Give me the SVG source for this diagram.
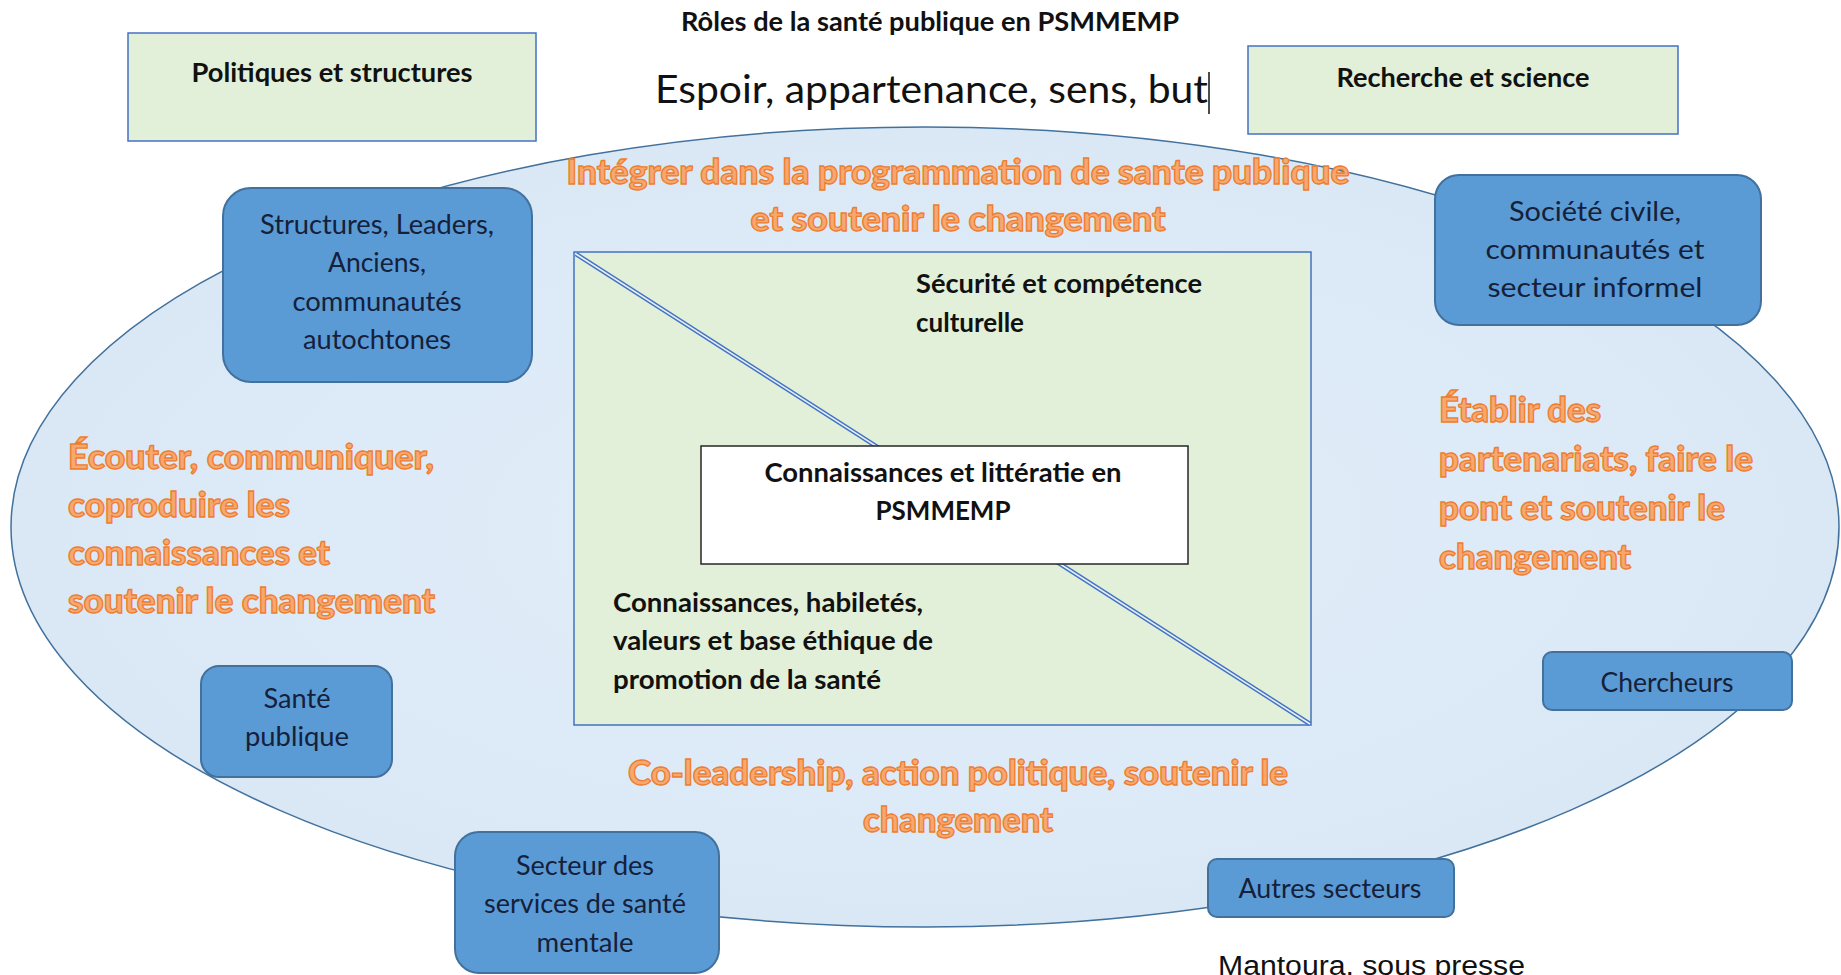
<svg xmlns="http://www.w3.org/2000/svg" width="1841" height="975" viewBox="0 0 1841 975">
  <defs>
    <radialGradient id="ellGrad" cx="50%" cy="50%" r="50%">
      <stop offset="0%" stop-color="#E3EEF9"/>
      <stop offset="100%" stop-color="#DAE8F6"/>
    </radialGradient>
    <style>
      .bk { font-family: Lato, "Liberation Sans", sans-serif; fill: #111; }
      .b { font-weight: 700; }
      .reg { font-weight: 400; }
      .or { font-family: Lato, "Liberation Sans", sans-serif; font-weight: 900; font-size: 34px; fill: #F7A86F; stroke: #ED7D31; stroke-width: 1.3px; }
      .greenbox { fill: #E2F0D9; stroke: #4472C4; stroke-width: 1.5; }
      .bluenode { fill: #5B9BD5; stroke: #41719C; stroke-width: 2; }
      .nt { font-family: Lato, "Liberation Sans", sans-serif; font-size: 26px; fill: #15203A; text-anchor: middle; }
    </style>
  </defs>

  <rect x="0" y="0" width="1841" height="975" fill="#FFFFFF"/>

  <!-- Big ellipse -->
  <g id="ellipse">
    <ellipse cx="925" cy="527" rx="914" ry="400" fill="url(#ellGrad)" stroke="#41719C" stroke-width="1.5"/>
  </g>

  <!-- Title texts -->
  <g id="title">
    <text class="bk b" x="930" y="31" font-size="26" text-anchor="middle" textLength="498" lengthAdjust="spacingAndGlyphs">Rôles de la santé publique en PSMMEMP</text>
    <text class="bk reg" x="655" y="103" font-size="39" textLength="553" lengthAdjust="spacingAndGlyphs">Espoir, appartenance, sens, but</text>
    <line x1="1209" y1="72" x2="1209" y2="114" stroke="#111" stroke-width="1.5"/>
  </g>

  <!-- Top green boxes -->
  <g id="politiques">
    <rect class="greenbox" x="128" y="33" width="408" height="108"/>
    <text class="bk b" x="332" y="82" font-size="26" text-anchor="middle" textLength="281" lengthAdjust="spacingAndGlyphs">Politiques et structures</text>
  </g>
  <g id="recherche">
    <rect class="greenbox" x="1248" y="46" width="430" height="88"/>
    <text class="bk b" x="1463" y="87" font-size="26" text-anchor="middle" textLength="253" lengthAdjust="spacingAndGlyphs">Recherche et science</text>
  </g>

  <!-- Orange role texts -->
  <g id="role-top">
    <text class="or" x="958" y="184" text-anchor="middle" textLength="783" lengthAdjust="spacingAndGlyphs">Intégrer dans la programmation de sante publique</text>
    <text class="or" x="958" y="231" text-anchor="middle" textLength="415" lengthAdjust="spacingAndGlyphs">et soutenir  le changement</text>
  </g>
  <g id="role-left">
    <text class="or" x="68" y="469" textLength="366" lengthAdjust="spacingAndGlyphs">Écouter, communiquer,</text>
    <text class="or" x="68" y="517" textLength="222" lengthAdjust="spacingAndGlyphs">coproduire les</text>
    <text class="or" x="68" y="565" textLength="262" lengthAdjust="spacingAndGlyphs">connaissances et</text>
    <text class="or" x="68" y="613" textLength="367" lengthAdjust="spacingAndGlyphs">soutenir le changement</text>
  </g>
  <g id="role-right">
    <text class="or" x="1439" y="422" textLength="162" lengthAdjust="spacingAndGlyphs">Établir des</text>
    <text class="or" x="1439" y="471" textLength="314" lengthAdjust="spacingAndGlyphs">partenariats, faire le</text>
    <text class="or" x="1439" y="520" textLength="286" lengthAdjust="spacingAndGlyphs">pont et soutenir le</text>
    <text class="or" x="1439" y="569" textLength="192" lengthAdjust="spacingAndGlyphs">changement</text>
  </g>
  <g id="role-bottom">
    <text class="or" x="958" y="785" text-anchor="middle" textLength="660" lengthAdjust="spacingAndGlyphs">Co-leadership, action politique, soutenir le</text>
    <text class="or" x="958" y="832" text-anchor="middle" textLength="190" lengthAdjust="spacingAndGlyphs">changement</text>
  </g>

  <!-- Inner green panel -->
  <g id="inner-panel">
    <rect class="greenbox" x="574" y="252" width="737" height="473"/>
    <line x1="576" y1="254" x2="1310" y2="724" stroke="#4472C4" stroke-width="4.5"/>
    <line x1="576" y1="254" x2="1310" y2="724" stroke="#E8F2F8" stroke-width="1.6"/>
    <text class="bk b" font-size="26" x="916" y="293" textLength="286" lengthAdjust="spacingAndGlyphs">Sécurité et compétence</text>
    <text class="bk b" font-size="26" x="916" y="332">culturelle</text>
    <text class="bk b" font-size="26" x="613" y="612" textLength="310" lengthAdjust="spacingAndGlyphs">Connaissances, habiletés,</text>
    <text class="bk b" font-size="26" x="613" y="650" textLength="320" lengthAdjust="spacingAndGlyphs">valeurs et base éthique de</text>
    <text class="bk b" font-size="26" x="613" y="689" textLength="268" lengthAdjust="spacingAndGlyphs">promotion de la santé</text>
  </g>
  <g id="center-box">
    <rect x="701" y="446" width="487" height="118" fill="#FFFFFF" stroke="#262626" stroke-width="1.5"/>
    <text class="bk b" font-size="26" x="943" y="482" text-anchor="middle" textLength="357" lengthAdjust="spacingAndGlyphs">Connaissances et littératie en</text>
    <text class="bk b" font-size="26" x="943" y="520" text-anchor="middle" textLength="135" lengthAdjust="spacingAndGlyphs">PSMMEMP</text>
  </g>

  <!-- Blue actor nodes -->
  <g id="node-structures">
    <rect class="bluenode" x="223" y="188" width="309" height="194" rx="28" ry="28"/>
    <text class="nt" x="377" y="234" textLength="234" lengthAdjust="spacingAndGlyphs">Structures, Leaders,</text>
    <text class="nt" x="377" y="272" textLength="98" lengthAdjust="spacingAndGlyphs">Anciens,</text>
    <text class="nt" x="377" y="311" textLength="169" lengthAdjust="spacingAndGlyphs">communautés</text>
    <text class="nt" x="377" y="349" textLength="148" lengthAdjust="spacingAndGlyphs">autochtones</text>
  </g>
  <g id="node-societe">
    <rect class="bluenode" x="1435" y="175" width="326" height="150" rx="24" ry="24"/>
    <text class="nt" x="1595" y="221" textLength="172" lengthAdjust="spacingAndGlyphs">Société civile,</text>
    <text class="nt" x="1595" y="259" textLength="219" lengthAdjust="spacingAndGlyphs">communautés et</text>
    <text class="nt" x="1595" y="297" textLength="215" lengthAdjust="spacingAndGlyphs">secteur informel</text>
  </g>
  <g id="node-sante-publique">
    <rect class="bluenode" x="201" y="666" width="191" height="111" rx="18" ry="18"/>
    <text class="nt" x="297" y="708" textLength="67" lengthAdjust="spacingAndGlyphs">Santé</text>
    <text class="nt" x="297" y="746" textLength="104" lengthAdjust="spacingAndGlyphs">publique</text>
  </g>
  <g id="node-secteur-sm">
    <rect class="bluenode" x="455" y="832" width="264" height="141" rx="24" ry="24"/>
    <text class="nt" x="585" y="875" textLength="138" lengthAdjust="spacingAndGlyphs">Secteur des</text>
    <text class="nt" x="585" y="913" textLength="202" lengthAdjust="spacingAndGlyphs">services de santé</text>
    <text class="nt" x="585" y="952" textLength="97" lengthAdjust="spacingAndGlyphs">mentale</text>
  </g>
  <g id="node-chercheurs">
    <rect class="bluenode" x="1543" y="652" width="249" height="58" rx="9" ry="9"/>
    <text class="nt" x="1667" y="692" textLength="133" lengthAdjust="spacingAndGlyphs">Chercheurs</text>
  </g>
  <g id="node-autres">
    <rect class="bluenode" x="1208" y="859" width="246" height="58" rx="9" ry="9"/>
    <text class="nt" x="1330" y="898" textLength="183" lengthAdjust="spacingAndGlyphs">Autres secteurs</text>
  </g>

  <!-- Citation -->
  <g id="citation">
    <text x="1218" y="975" font-family="'Liberation Sans Narrow', 'Liberation Sans', sans-serif" font-size="27" fill="#111" textLength="307" lengthAdjust="spacingAndGlyphs">Mantoura, sous presse</text>
  </g>
</svg>
